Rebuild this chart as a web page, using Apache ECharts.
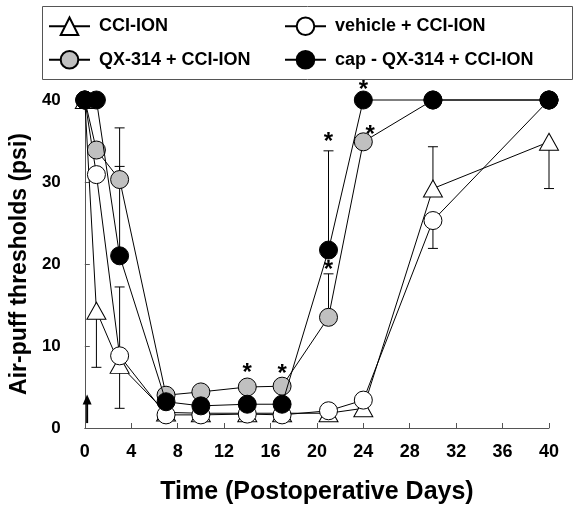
<!DOCTYPE html>
<html>
<head>
<meta charset="utf-8">
<script src="https://cdn.jsdelivr.net/npm/echarts@6/dist/echarts.min.js"></script>
<style>html,body{margin:0;padding:0;background:#fff;}#c{width:579px;height:510px;}</style>
</head>
<body>
<div id="c"></div>
<script>
// ---- data ----
const days = [0, 1, 3, 7, 10, 14, 17, 21, 24, 30, 40];
const cciIon  = [40, 14.3, 7.7, 1.9, 1.8, 1.8, 1.8, 1.8, 2.4, 29.2, 34.9];
const vehicle = [40, 30.9, 8.8, 1.6, 1.6, 1.7, 1.6, 2.1, 3.4, 25.3, 40];
const qx314   = [40, 33.9, 30.3, 4.0, 4.4, 5.0, 5.1, 13.5, 34.9, 40, 40];
const capQx   = [40, 40, 21.0, 3.2, 2.7, 2.9, 2.9, 21.7, 40, 40, 40];
// error bars: [day, mean, end of bar]
const cciIonErr  = [[1, 14.3, 7.4], [3, 7.7, 2.4], [30, 29.2, 34.3], [40, 34.9, 29.2]];
const vehicleErr = [[3, 8.8, 17.2], [30, 25.3, 21.9]];
const qx314Err   = [[3, 30.3, 36.6], [21, 13.5, 18.8]];
const capQxErr   = [[3, 21.0, 31.9], [21, 21.7, 33.8]];
// significance marks: [day, psi]
const asterisks = [[14, 7.3], [17, 7.1], [21, 19.8], [21, 35.4], [24, 41.8], [24.6, 36.3]];
// arrow (injection): [day, from, to]
const arrow = [[0.2, 0.6, 4.1]];
const xTicks = {min: 0, max: 40, interval: 4};
const yTicks = {min: 0, max: 40, interval: 10};
const names = ['CCI-ION', 'vehicle + CCI-ION', 'QX-314 + CCI-ION', 'cap - QX-314 + CCI-ION'];

const pair = arr => days.map((d, i) => [d, arr[i]]);
const FONT = 'Liberation Sans, Arial, sans-serif';

function lineSeries(name, arr, symbol, fill, size, z) {
  return {
    name, type: 'line', data: pair(arr), symbol, symbolSize: size, z,
    clip: false, showAllSymbol: true,
    lineStyle: {color: '#000', width: 1},
    itemStyle: {color: fill, borderColor: '#000', borderWidth: 1},
    emphasis: {disabled: true}, animation: false
  };
}

const errData = [].concat(cciIonErr, vehicleErr, qx314Err, capQxErr);

const chart = echarts.init(document.getElementById('c'), null, {renderer: 'canvas'});
const legendBase = {
  orient: 'horizontal', padding: 0, itemWidth: 41, itemHeight: 22, selectedMode: false,
  textStyle: {fontFamily: FONT, fontWeight: 'bold', fontSize: 18, color: '#000', padding: [0, 0, 0, 4]}
};
chart.setOption({
  animation: false,
  backgroundColor: '#fff',
  grid: {left: 80, right: 30, top: 100, bottom: 82},
  legend: [
    Object.assign({}, legendBase, {data: [names[0]], left: 48, top: 16.5}),
    Object.assign({}, legendBase, {data: [names[1]], left: 284, top: 16.5}),
    Object.assign({}, legendBase, {data: [names[2]], left: 48, top: 50}),
    Object.assign({}, legendBase, {data: [names[3]], left: 284, top: 50})
  ],
  graphic: [{
    type: 'rect', left: 40, top: 4, shape: {width: 530, height: 73},
    style: {fill: null, stroke: '#555', lineWidth: 1}, silent: true
  }],
  xAxis: {
    type: 'value', min: xTicks.min, max: xTicks.max, interval: xTicks.interval,
    name: 'Time (Postoperative Days)', nameLocation: 'middle', nameGap: 52,
    nameTextStyle: {fontFamily: FONT, fontWeight: 'bold', fontSize: 25, color: '#000'},
    axisLine: {show: true, lineStyle: {color: '#555', width: 1}},
    axisTick: {show: true, inside: true, length: 5, lineStyle: {color: '#555'}},
    axisLabel: {fontFamily: FONT, fontWeight: 'bold', fontSize: 18, color: '#000', margin: 15},
    splitLine: {show: false}
  },
  yAxis: {
    type: 'value', min: yTicks.min, max: yTicks.max, interval: yTicks.interval, offset: 12,
    name: 'Air-puff thresholds (psi)', nameLocation: 'middle', nameGap: 32,
    nameTextStyle: {fontFamily: FONT, fontWeight: 'bold', fontSize: 23, color: '#000'},
    axisLine: {show: true, lineStyle: {color: '#555', width: 1}},
    axisTick: {show: true, inside: true, length: 5, lineStyle: {color: '#555'}},
    axisLabel: {fontFamily: FONT, fontWeight: 'bold', fontSize: 17, color: '#000', margin: 12},
    splitLine: {show: false}
  },
  series: [
    {
      type: 'custom', name: 'err', z: 1, data: errData, clip: false, silent: true,
      encode: {x: 0, y: [1, 2]},
      renderItem: function (params, api) {
        const x = api.value(0), v = api.value(1), e = api.value(2);
        const p1 = api.coord([x, v]), p2 = api.coord([x, e]);
        const cw = 5;
        return {type: 'group', children: [
          {type: 'line', shape: {x1: p1[0], y1: p1[1], x2: p2[0], y2: p2[1]}, style: {stroke: '#000', lineWidth: 1}},
          {type: 'line', shape: {x1: p2[0] - cw, y1: p2[1], x2: p2[0] + cw, y2: p2[1]}, style: {stroke: '#000', lineWidth: 1}}
        ]};
      }
    },
    lineSeries(names[0], cciIon, 'triangle', '#fff', [19, 17], 2),
    lineSeries(names[1], vehicle, 'circle', '#fff', 18, 3),
    lineSeries(names[2], qx314, 'circle', '#c0c0c0', 18, 4),
    lineSeries(names[3], capQx, 'circle', '#000', 18, 5),
    {
      type: 'custom', name: 'sig', z: 6, data: asterisks, clip: false, silent: true,
      encode: {x: 0, y: 1},
      renderItem: function (params, api) {
        const p = api.coord([api.value(0), api.value(1)]);
        return {type: 'text', x: p[0], y: p[1] + 5,
          style: {text: '*', fill: '#000', font: 'bold 24px ' + FONT, align: 'center', verticalAlign: 'middle'}};
      }
    },
    {
      type: 'custom', name: 'arrow', z: 6, data: arrow, clip: false, silent: true,
      encode: {x: 0, y: [1, 2]},
      renderItem: function (params, api) {
        const x = api.value(0);
        const b = api.coord([x, api.value(1)]), t = api.coord([x, api.value(2)]);
        const hw = 4.5, hh = 10;
        return {type: 'group', children: [
          {type: 'line', shape: {x1: b[0], y1: b[1], x2: t[0], y2: t[1] + hh - 1}, style: {stroke: '#000', lineWidth: 2}},
          {type: 'polygon', shape: {points: [[t[0], t[1]], [t[0] - hw, t[1] + hh], [t[0] + hw, t[1] + hh]]}, style: {fill: '#000'}}
        ]};
      }
    }
  ]
});
</script>
</body>
</html>
